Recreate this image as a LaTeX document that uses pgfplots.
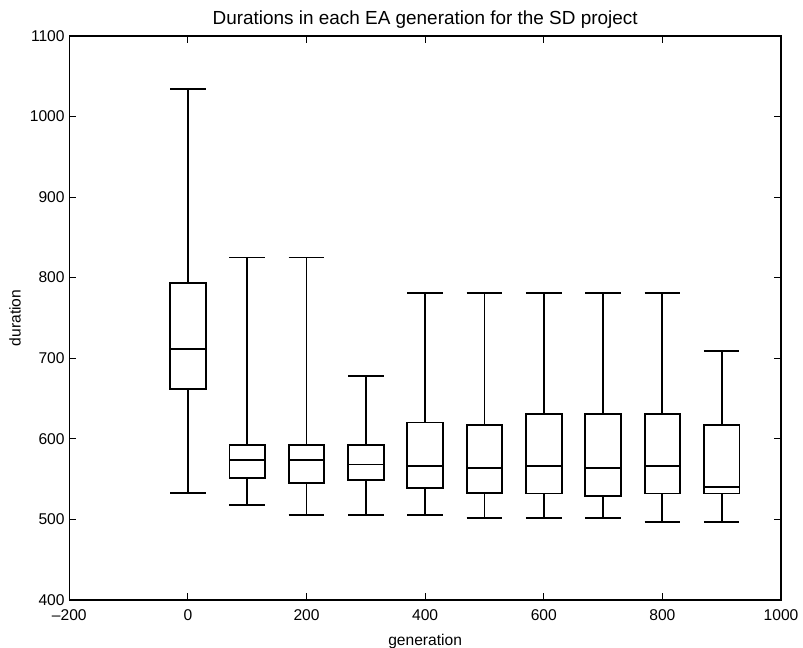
\documentclass[border=0pt]{standalone}
\usepackage{fontspec}
\setmainfont{Liberation Sans}
\usepackage{pgfplots}
\pgfplotsset{compat=1.18}
\usepgfplotslibrary{statistics}
\begin{document}
\begin{tikzpicture}
\begin{axis}[
  at={(0,0)}, anchor=south west,
  scale only axis,
  width=534pt, height=423pt,
  xmin=-200, xmax=1000, ymin=400, ymax=1100,
  xtick={-200,0,200,400,600,800,1000}, ytick={400,500,...,1100},
  xticklabels={{–200},0,200,400,600,800,1000},
  tick align=inside, major tick length=5pt,
  axis line style={line width=1.2pt},
  every tick/.style={black, line width=0.8pt},
  /pgf/number format/assume math mode=true,
  /pgf/number format/1000 sep={},
  ticklabel style={font=\fontsize{11.7}{13}\selectfont},
  xticklabel style={yshift=-4pt},
  label style={font=\fontsize{11.7}{13}\selectfont},
  xlabel={generation}, ylabel={duration},
  xlabel style={yshift=-3pt},
  ylabel style={yshift=0pt},
  title={Durations in each EA generation for the SD project},
  title style={font=\fontsize{14.2}{16}\selectfont, yshift=-4pt},
  boxplot/draw direction=y,
  boxplot/box extend=60,
  boxplot/whisker extend=60,
  every axis plot/.append style={black, line width=1.4pt, solid},
]
\addplot[boxplot prepared={draw position=0, lower whisker=533, lower quartile=662, median=711, upper quartile=793, upper whisker=1034}] coordinates {};
\addplot[boxplot prepared={draw position=100, lower whisker=518, lower quartile=551, median=573, upper quartile=592, upper whisker=825}] coordinates {};
\addplot[boxplot prepared={draw position=200, lower whisker=505, lower quartile=545, median=573, upper quartile=592, upper whisker=825}] coordinates {};
\addplot[boxplot prepared={draw position=300, lower whisker=505, lower quartile=549, median=568, upper quartile=592, upper whisker=678}] coordinates {};
\addplot[boxplot prepared={draw position=400, lower whisker=505, lower quartile=539, median=566, upper quartile=620, upper whisker=781}] coordinates {};
\addplot[boxplot prepared={draw position=500, lower whisker=501, lower quartile=533, median=564, upper quartile=617, upper whisker=781}] coordinates {};
\addplot[boxplot prepared={draw position=600, lower whisker=501, lower quartile=532, median=566, upper quartile=631, upper whisker=781}] coordinates {};
\addplot[boxplot prepared={draw position=700, lower whisker=501, lower quartile=529, median=564, upper quartile=631, upper whisker=781}] coordinates {};
\addplot[boxplot prepared={draw position=800, lower whisker=496, lower quartile=532, median=566, upper quartile=631, upper whisker=781}] coordinates {};
\addplot[boxplot prepared={draw position=900, lower whisker=496, lower quartile=532, median=540, upper quartile=617, upper whisker=709}] coordinates {};
\end{axis}
\pgfresetboundingbox
\path[use as bounding box] (-52pt,-36pt) rectangle (550.5pt,450pt);
\end{tikzpicture}
\end{document}
